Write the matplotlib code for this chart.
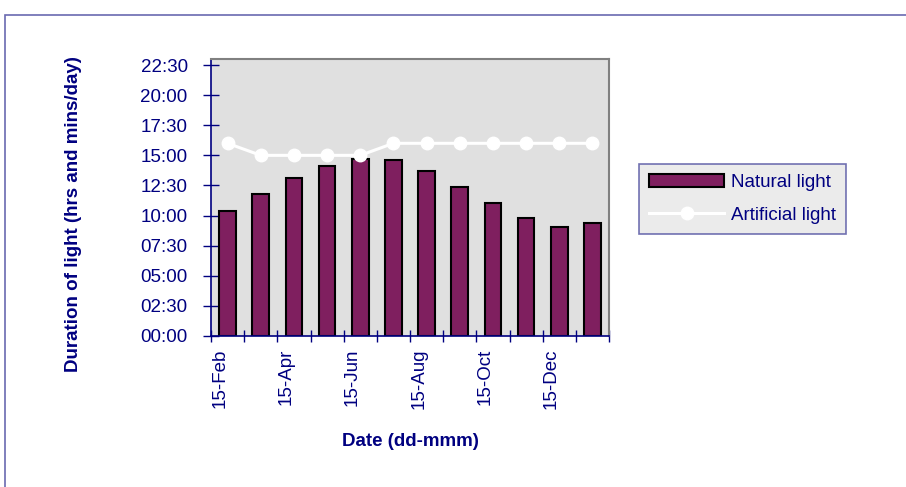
import numpy as np
import matplotlib.pyplot as plt
from matplotlib.patches import Rectangle
from matplotlib.lines import Line2D

# durations in minutes per day
months = ['15-Feb', '15-Mar', '15-Apr', '15-May', '15-Jun', '15-Jul',
          '15-Aug', '15-Sep', '15-Oct', '15-Nov', '15-Dec', '15-Jan']
natural = [623, 706, 787, 849, 880, 877, 822, 743, 661, 590, 545, 561]
artificial = [960, 900, 900, 900, 900, 960, 960, 960, 960, 960, 960, 960]
yticks = [0, 150, 300, 450, 600, 750, 900, 1050, 1200, 1350]

navy = '#000080'
plt.rcParams['font.family'] = ['Liberation Sans', 'DejaVu Sans']

fig = plt.figure(figsize=(9.06, 4.87), dpi=100)
ax = fig.add_axes([211/906, 1-336/487, 398/906, 277/487])

# outer chart border
fig.patches.append(Rectangle((5/906, -0.05), 1.1, 1-15/487+0.05, transform=fig.transFigure,
                             fill=False, edgecolor='#6a6ab0', linewidth=1.2))

x = np.arange(len(months))
ax.set_facecolor('#e0e0e0')
ax.bar(x, natural, width=0.5, color='#7f1f5f', edgecolor='black', linewidth=1.5, zorder=2)
ax.plot(x, artificial, color='white', linewidth=2.2, marker='o', markersize=9,
        markerfacecolor='white', markeredgecolor='white', zorder=3)

ax.set_xlim(-0.5, len(months) - 0.5)
ax.set_ylim(0, 1380)
ax.set_yticks(yticks)
ax.set_yticklabels(['%02d:%02d' % (v // 60, v % 60) for v in yticks], fontsize=13.5, color=navy)
ax.tick_params(axis='y', direction='inout', length=11.5, width=1, color=navy, pad=11)

# ticks on category edges, labels every other edge
ax.set_xticks(np.arange(len(months) + 1) - 0.5, minor=True)
ax.tick_params(axis='x', which='minor', direction='inout', length=8, width=1, color=navy)
lab_pos = np.arange(0, len(months), 2) - 0.5 + 0.27
ax.set_xticks(lab_pos)
ax.set_xticklabels(months[::2], rotation=90, fontsize=13.5, color=navy)
ax.tick_params(axis='x', which='major', length=0, pad=9)

for s in ['left', 'bottom']:
    ax.spines[s].set_color(navy)
    ax.spines[s].set_linewidth(1.2)
for s in ['top', 'right']:
    ax.spines[s].set_color('#808080')
    ax.spines[s].set_linewidth(1.5)

ax.set_ylabel('Duration of light (hrs and mins/day)', fontsize=13.5, fontweight='bold',
              color=navy)
ax.yaxis.set_label_coords(-0.325, 0.44)
ax.set_xlabel('Date (dd-mmm)', fontsize=13.5, fontweight='bold', color=navy)
ax.xaxis.set_label_coords(0.5, -0.35)

handles = [Rectangle((0, 0), 1, 1, facecolor='#7f1f5f', edgecolor='black', linewidth=1.5),
           Line2D([], [], color='white', linewidth=2.2, marker='o', markersize=9)]
leg = fig.legend(handles, ['Natural light', 'Artificial light'], loc='upper left',
                 bbox_to_anchor=(639/906, 1-164/487), fontsize=13.5, frameon=True,
                 fancybox=False, handlelength=4.0, borderpad=0.55, labelspacing=0.8,
                 handletextpad=0.35, borderaxespad=0)
leg.get_frame().set_facecolor('#e6e6e6')
leg.get_frame().set_edgecolor('#5050a0')
leg.get_frame().set_linewidth(1.2)
for t in leg.get_texts():
    t.set_color(navy)

fig.savefig('out.png', dpi=100)
